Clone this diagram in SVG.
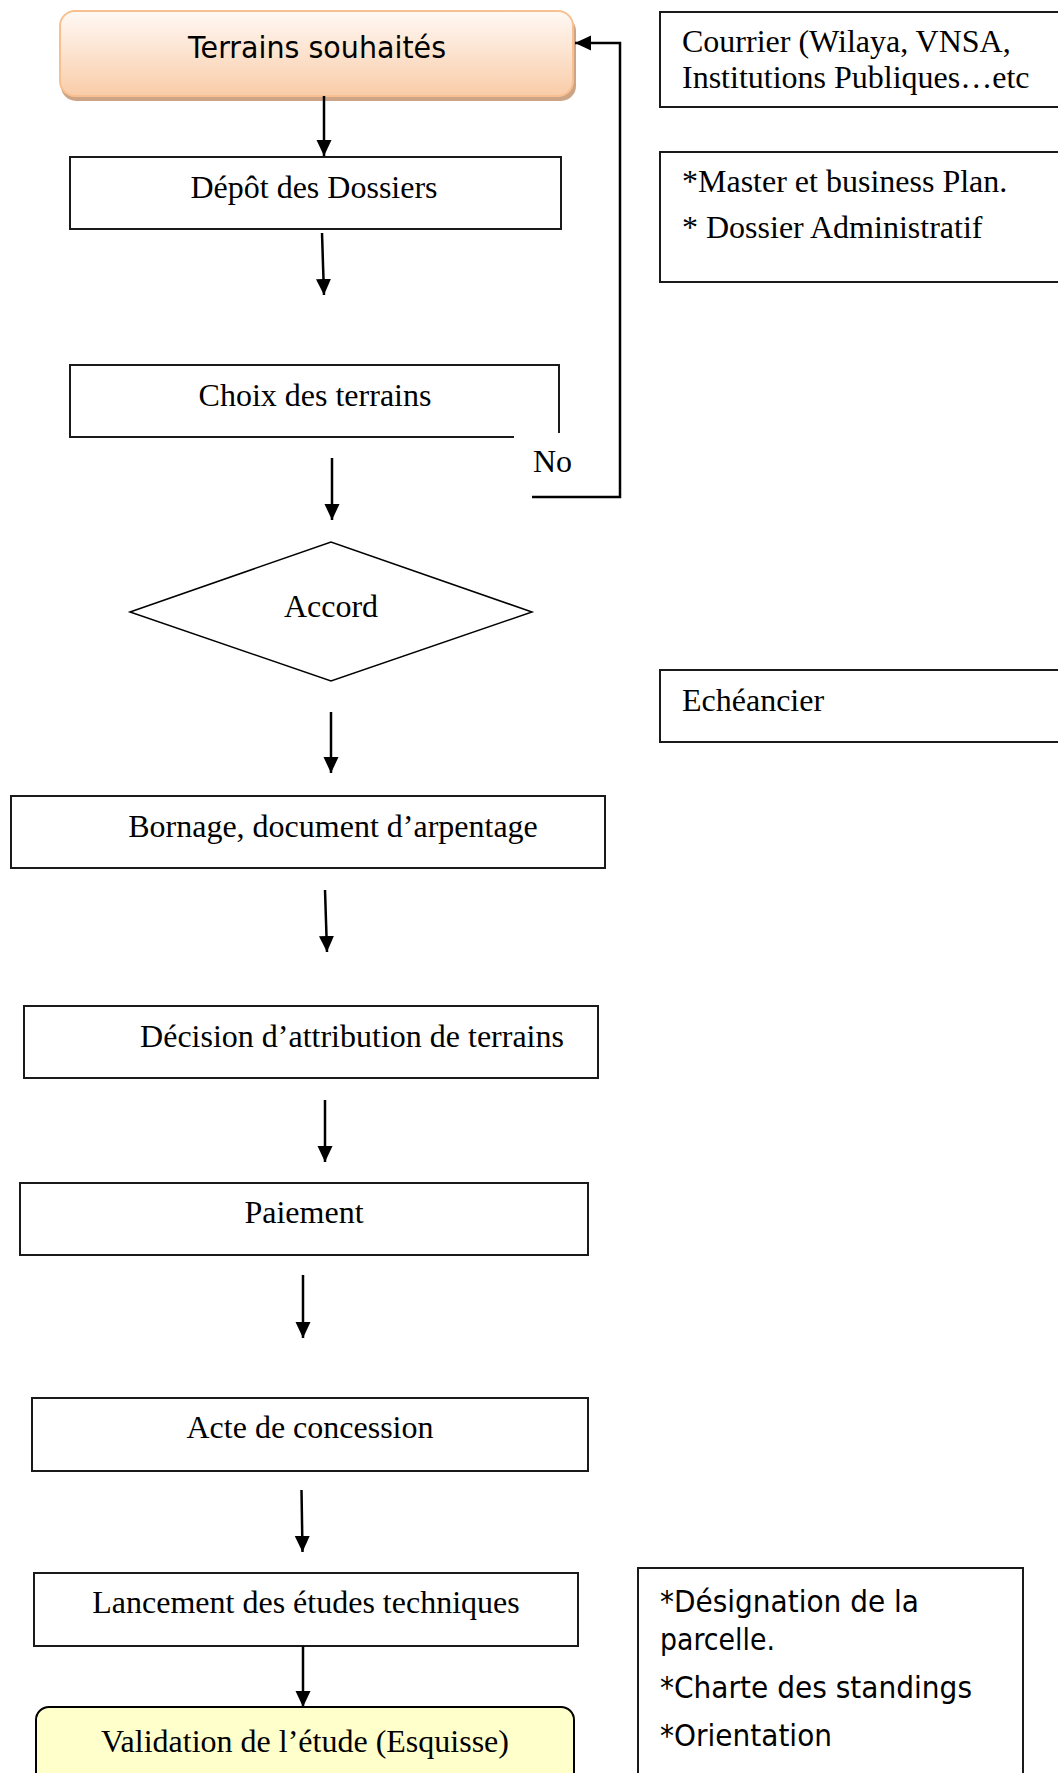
<svg xmlns="http://www.w3.org/2000/svg" width="1058" height="1773" viewBox="0 0 1058 1773">
<style>
.box{fill:#fff;stroke:#1a1a1a;stroke-width:2}
.t{font-family:"Liberation Serif","Times New Roman",serif;font-size:32px;fill:#000}
.m{text-anchor:middle}
.s{font-family:"DejaVu Sans",Tahoma,sans-serif;font-size:31px;fill:#000}
.c{fill:none;stroke:#000;stroke-width:2.5}
</style>
<defs>
<linearGradient id="peach" x1="0" y1="0" x2="0" y2="1">
<stop offset="0" stop-color="#FFF9F5"/>
<stop offset="1" stop-color="#F9CCA8"/>
</linearGradient>
<marker id="ah" markerUnits="userSpaceOnUse" markerWidth="17" markerHeight="16" refX="16" refY="7.5" orient="auto">
<path d="M0,0 L16,7.5 L0,15 z" fill="#000"/>
</marker>
</defs>
<g id="n-terrains">
<rect x="61" y="16" width="515" height="85" rx="15" fill="#CDA486"/>
<rect x="60" y="11" width="513" height="85" rx="15" fill="url(#peach)" stroke="#F8C090" stroke-width="2"/>
<text class="s m" x="317" y="58" textLength="258" lengthAdjust="spacingAndGlyphs">Terrains souhaités</text>
</g>
<g id="n-depot">
<rect class="box" x="70" y="157" width="491" height="72"/>
<text class="t m" x="314" y="198">Dépôt des Dossiers</text>
</g>
<g id="n-choix">
<path d="M514,437 L70,437 L70,365 L559,365 L559,433" fill="none" stroke="#1a1a1a" stroke-width="2"/>
<text class="t m" x="315" y="406">Choix des terrains</text>
</g>
<g id="n-accord">
<polygon points="130,612 331,542 532,612 331,681" fill="#fff" stroke="#000" stroke-width="1.5"/>
<text class="t m" x="331" y="617">Accord</text>
</g>
<g id="n-bornage">
<rect class="box" x="11" y="796" width="594" height="72"/>
<text class="t m" x="333" y="837">Bornage, document d’arpentage</text>
</g>
<g id="n-decision">
<rect class="box" x="24" y="1006" width="574" height="72"/>
<text class="t m" x="352" y="1047">Décision d’attribution de terrains</text>
</g>
<g id="n-paiement">
<rect class="box" x="20" y="1183" width="568" height="72"/>
<text class="t m" x="304" y="1223">Paiement</text>
</g>
<g id="n-acte">
<rect class="box" x="32" y="1398" width="556" height="73"/>
<text class="t m" x="310" y="1438">Acte de concession</text>
</g>
<g id="n-lancement">
<rect class="box" x="34" y="1573" width="544" height="73"/>
<text class="t m" x="306" y="1613">Lancement des études techniques</text>
</g>
<g id="n-validation">
<rect x="36" y="1707" width="538" height="90" rx="13" fill="#FFFFCC" stroke="#000" stroke-width="2"/>
<text class="t m" x="305" y="1752">Validation de l’étude (Esquisse)</text>
</g>
<g id="n-courrier">
<rect class="box" x="660" y="12" width="410" height="95"/>
<text class="t" x="682" y="52">Courrier (Wilaya, VNSA,</text>
<text class="t" x="682" y="88">Institutions Publiques…etc</text>
</g>
<g id="n-master">
<rect class="box" x="660" y="152" width="410" height="130"/>
<text class="t" x="682" y="192">*Master et business Plan.</text>
<text class="t" x="682" y="238">* Dossier Administratif</text>
</g>
<g id="n-echeancier">
<rect class="box" x="660" y="670" width="410" height="72"/>
<text class="t" x="682" y="711">Echéancier</text>
</g>
<g id="n-designation">
<rect class="box" x="638" y="1568" width="385" height="230"/>
<text class="s" x="660" y="1612" textLength="259" lengthAdjust="spacingAndGlyphs">*Désignation de la</text>
<text class="s" x="660" y="1650" textLength="115" lengthAdjust="spacingAndGlyphs">parcelle.</text>
<text class="s" x="660" y="1698" textLength="312" lengthAdjust="spacingAndGlyphs">*Charte des standings</text>
<text class="s" x="660" y="1746" textLength="172" lengthAdjust="spacingAndGlyphs">*Orientation</text>
</g>
<g id="connectors">
<path class="c" d="M324,96 L324,156" marker-end="url(#ah)"/>
<path class="c" d="M322,233 L324,295" marker-end="url(#ah)"/>
<path class="c" d="M532,497 L620,497 L620,43 L575,43" marker-end="url(#ah)"/>
<text class="t" x="533" y="472">No</text>
<path class="c" d="M332,458 L332,520" marker-end="url(#ah)"/>
<path class="c" d="M331,712 L331,773" marker-end="url(#ah)"/>
<path class="c" d="M325,890 L327,952" marker-end="url(#ah)"/>
<path class="c" d="M325,1100 L325,1162" marker-end="url(#ah)"/>
<path class="c" d="M303,1275 L303,1338" marker-end="url(#ah)"/>
<path class="c" d="M301.5,1490 L302.5,1552" marker-end="url(#ah)"/>
<path class="c" d="M303,1646 L303,1707" marker-end="url(#ah)"/>
</g>
</svg>
